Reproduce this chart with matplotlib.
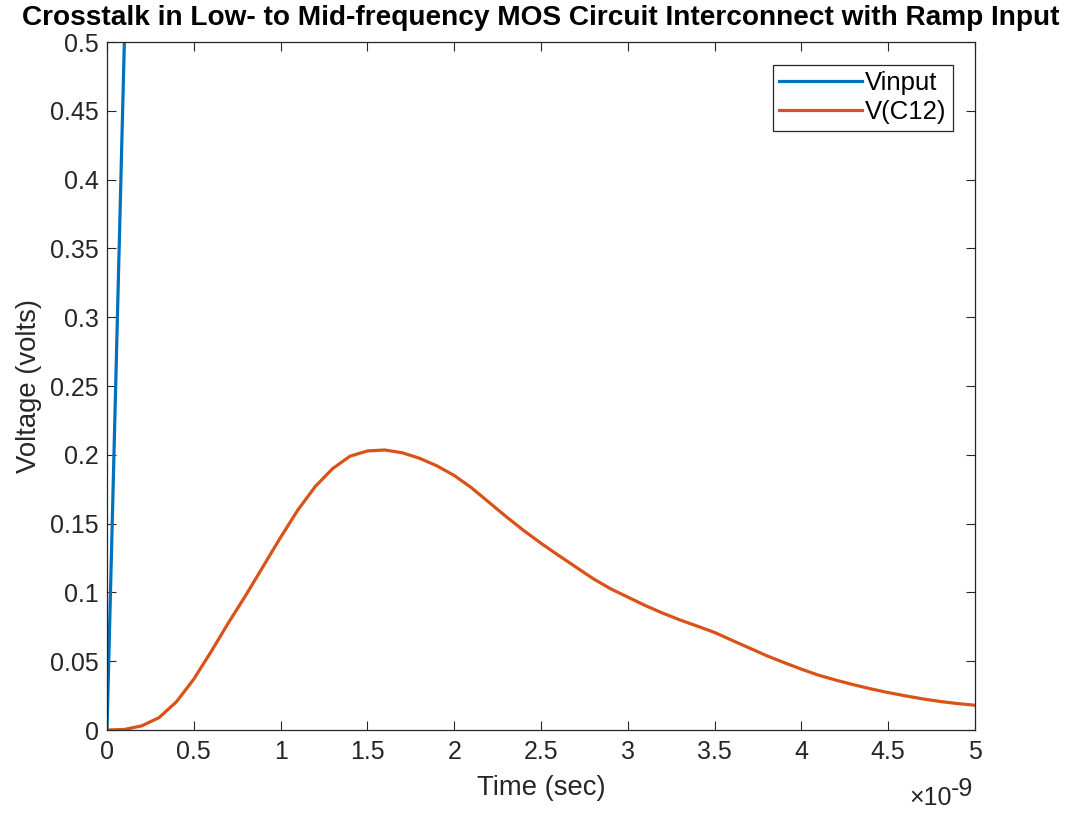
import matplotlib
matplotlib.use("Agg")
import matplotlib.pyplot as plt
import numpy as np

plt.rcParams['font.family'] = ['Liberation Sans', 'DejaVu Sans']

# input ramp (sec, volts)
t_in = np.array([0, 0.2e-9, 5e-9])
v_in = np.array([0, 1.0, 1.0])

# coupled voltage on C12, every 0.1 ns
t_c12 = np.arange(0, 51) * 0.1e-9
v_c12 = np.array([
    0.0, 0.0004, 0.0030, 0.0090, 0.0205, 0.0370, 0.0570, 0.0780, 0.098, 0.119,
    0.140, 0.160, 0.177, 0.190, 0.1990, 0.2028, 0.2035, 0.2015, 0.1975, 0.192,
    0.185, 0.176, 0.1655, 0.155, 0.145, 0.1357, 0.127, 0.1185, 0.110, 0.1027,
    0.0966, 0.0905, 0.085, 0.080, 0.0755, 0.0709, 0.0652, 0.0596, 0.0540, 0.0490,
    0.0442, 0.0398, 0.0362, 0.0329, 0.0299, 0.0272, 0.0248, 0.0226, 0.0207, 0.0192,
    0.0180])

xticks = np.arange(0, 5.01, 0.5) * 1e-9
xtick_labels = ['0', '0.5', '1', '1.5', '2', '2.5', '3', '3.5', '4', '4.5', '5']
yticks = np.arange(0, 0.501, 0.05)
ytick_labels = ['0', '0.05', '0.1', '0.15', '0.2', '0.25', '0.3', '0.35', '0.4', '0.45', '0.5']

axcol = '#262626'

fig = plt.figure(figsize=(10.8, 8.13), dpi=100)
ax = fig.add_axes([107/1080, 1 - 730/813, 868/1080, 688/813])

ax.plot(t_in, v_in, color='#0072BD', lw=2.3, label='Vinput')
ax.plot(t_c12, v_c12, color='#D95319', lw=2.3, label='V(C12)')

ax.set_xlim(0, 5e-9)
ax.set_ylim(0, 0.5)
ax.set_xticks(xticks)
ax.set_xticklabels(xtick_labels)
ax.set_yticks(yticks)
ax.set_yticklabels(ytick_labels)

ax.tick_params(direction='in', top=True, right=True, length=6.5, width=0.8,
               colors=axcol, labelsize=18)
ax.tick_params(axis='x', pad=7)
ax.tick_params(axis='y', pad=6)
for s in ax.spines.values():
    s.set_color(axcol)
    s.set_linewidth(0.9)

ax.set_xlabel('Time (sec)', fontsize=19.8, color=axcol, labelpad=8)
ax.set_ylabel('Voltage (volts)', fontsize=19.8, color=axcol, labelpad=6)
ax.set_title('Crosstalk in Low- to Mid-frequency MOS Circuit Interconnect with Ramp Input',
             fontsize=20.2, fontweight='bold', color='black', pad=12)

# exponent label, drawn like MATLAB's
fig.text(952/1080, 1 - 798/813, '×10', ha='right', va='center',
         fontsize=18, color=axcol)
fig.text(951/1080, 1 - 789/813, '-9', ha='left', va='center',
         fontsize=18, color=axcol)

leg = ax.legend(loc='upper right', fontsize=18.5, handlelength=3.2,
                handletextpad=0.15, borderpad=0.25, labelspacing=0.2,
                borderaxespad=0, fancybox=False, framealpha=1,
                bbox_to_anchor=(0.975, 0.967))
leg.get_frame().set_edgecolor(axcol)
leg.get_frame().set_linewidth(0.9)

plt.savefig('out.png', dpi=100)
